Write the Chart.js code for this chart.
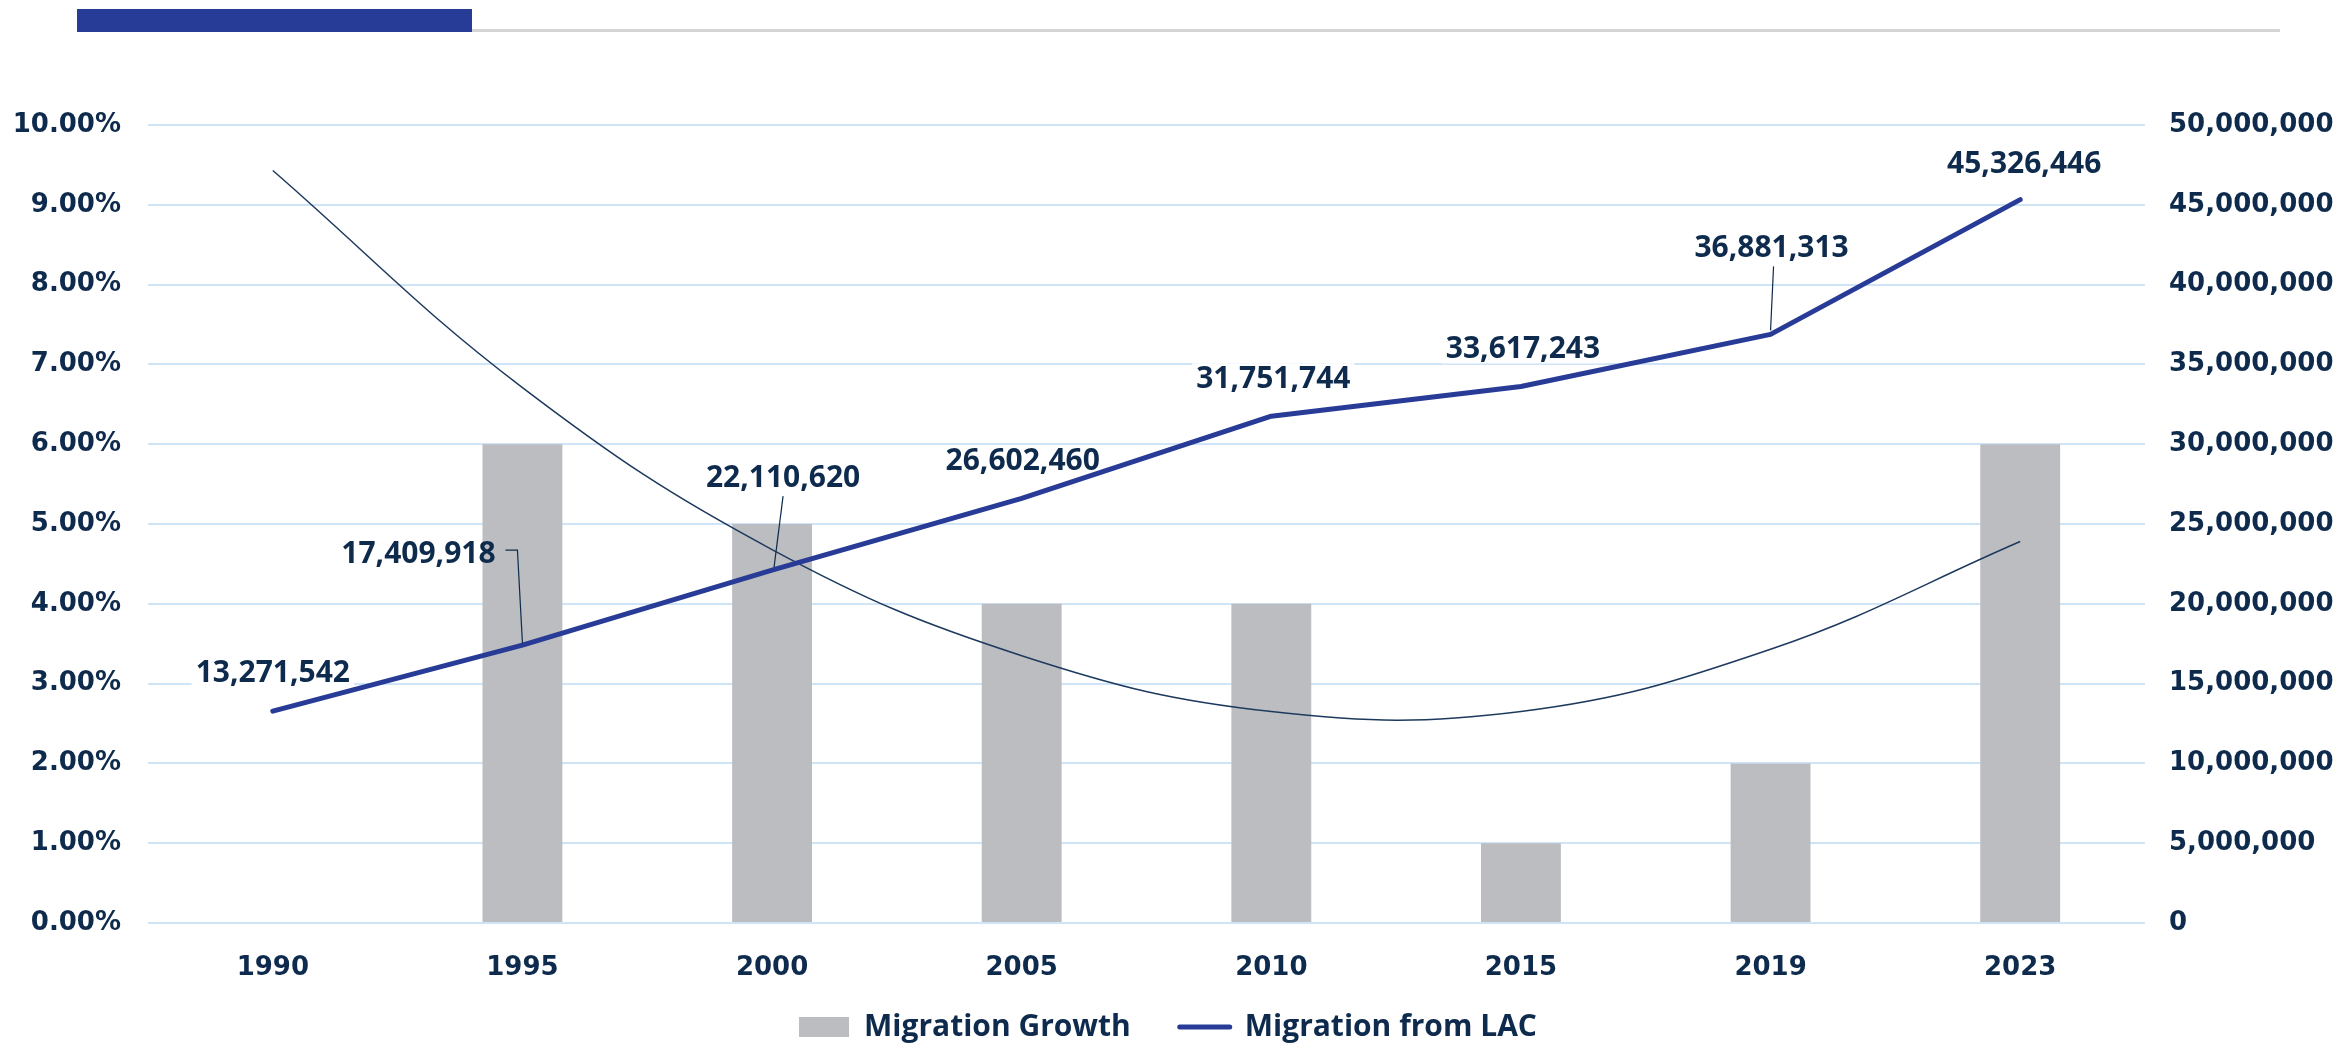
<!DOCTYPE html>
<html>
<head>
<meta charset="utf-8">
<script src="https://cdn.jsdelivr.net/npm/chart.js@4.4.1/dist/chart.umd.min.js"></script>
<style>
  html, body { margin: 0; padding: 0; background: #fff; }
  #wrap { position: relative; width: 2336px; height: 1044px; }
  .topline { position: absolute; left: 84px; top: 29px; width: 2196px; height: 3px; background: #d4d4d4; }
  .topbar { position: absolute; left: 77px; top: 9px; width: 395px; height: 23px; background: #263c96; }
  canvas { position: absolute; left: 0; top: 0; }
</style>
</head>
<body>
<div id="wrap">
  <div class="topline"></div>
  <div class="topbar"></div>
  <canvas id="grafico" width="2336" height="1044"></canvas>
</div>
<script>
// datos
const years = ['1990', '1995', '2000', '2005', '2010', '2015', '2019', '2023'];
const growthPct = [0, 6, 5, 4, 4, 1, 2, 6];
const migrationLAC = [13271542, 17409918, 22110620, 26602460, 31751744, 33617243, 36881313, 45326446];
// polynomial trendline of growth
const growthTrend = [9.43, 6.71, 4.68, 3.35, 2.65, 2.65, 3.43, 4.78];
const leftTicksMax = 10;
const rightTicksMax = 50000000;

const textColor = '#0e2b4d';
const barColor = '#bcbdc1';
const lineColor = '#283c97';
const gridColor = '#cfe4f6';

// label placement relative to the point
const labelOffsets = [[0, -40], [-104, -93], [11, -94], [1, -39], [2, -39], [2, -39], [1, -88], [4, -38]];
const leaders = {
  1: [[-17, -95], [-5, -95], [0, -2]],
  2: [[11, -74], [2, -3]],
  6: [[3, -68], [0, -4]]
};
const labelFont = 'bold 30px "Open Sans"';

const fmt = v => v.toLocaleString('en-US');

const dataLabels = {
  id: 'dataLabels',
  beforeDatasetsDraw(chart) {
    const meta = chart.getDatasetMeta(1);
    const ctx = chart.ctx;
    ctx.save();
    ctx.font = labelFont;
    ctx.fillStyle = '#fff';
    meta.data.forEach((pt, i) => {
      const cx = pt.x + labelOffsets[i][0];
      const cy = pt.y + labelOffsets[i][1];
      const w = ctx.measureText(fmt(migrationLAC[i])).width;
      ctx.fillRect(cx - w / 2 - 4, cy - 14, w + 8, 30);
    });
    ctx.restore();
  },
  afterDatasetsDraw(chart) {
    const meta = chart.getDatasetMeta(1);
    const ctx = chart.ctx;
    ctx.save();
    ctx.font = labelFont;
    ctx.fillStyle = textColor;
    ctx.textAlign = 'center';
    ctx.textBaseline = 'alphabetic';
    meta.data.forEach((pt, i) => {
      const cx = pt.x + labelOffsets[i][0];
      const cy = pt.y + labelOffsets[i][1];
      ctx.fillText(fmt(migrationLAC[i]), cx, cy + 11);
      if (leaders[i]) {
        ctx.strokeStyle = textColor;
        ctx.lineWidth = 1.2;
        ctx.beginPath();
        leaders[i].forEach((p, k) => {
          if (k === 0) ctx.moveTo(pt.x + p[0], pt.y + p[1]);
          else ctx.lineTo(pt.x + p[0], pt.y + p[1]);
        });
        ctx.stroke();
      }
    });
    ctx.restore();
  }
};

const ctx = document.getElementById('grafico').getContext('2d');
new Chart(ctx, {
  data: {
    labels: years,
    datasets: [
      {
        type: 'bar',
        label: 'Migration Growth',
        data: growthPct,
        backgroundColor: barColor,
        barPercentage: 0.32,
        categoryPercentage: 1,
        yAxisID: 'y',
        order: 3
      },
      {
        type: 'line',
        label: 'Migration from LAC',
        data: migrationLAC,
        borderColor: lineColor,
        borderWidth: 5,
        borderCapStyle: 'round',
        borderJoinStyle: 'round',
        pointRadius: 0,
        tension: 0,
        yAxisID: 'y1',
        order: 1
      },
      {
        type: 'line',
        label: 'Trend',
        data: growthTrend,
        borderColor: '#1d3a5e',
        borderWidth: 1.5,
        pointRadius: 0,
        tension: 0.4,
        yAxisID: 'y',
        order: 2
      }
    ]
  },
  options: {
    responsive: false,
    animation: false,
    layout: { padding: { top: 125, bottom: -8, left: 0, right: 0 } },
    plugins: {
      tooltip: { enabled: false },
      legend: {
        position: 'bottom',
        labels: {
          usePointStyle: true,
          pointStyleWidth: 50,
          boxHeight: 20,
          padding: 10,
          color: textColor,
          font: { family: 'Open Sans', weight: 'bold', size: 30 },
          generateLabels: () => [
            { text: 'Migration Growth' + '\u00a0'.repeat(5), fillStyle: barColor, strokeStyle: barColor, lineWidth: 0, pointStyle: 'rect', datasetIndex: 0, fontColor: textColor },
            { text: 'Migration from LAC', fillStyle: lineColor, strokeStyle: lineColor, lineWidth: 5, lineCap: 'round', pointStyle: 'line', datasetIndex: 1, fontColor: textColor }
          ]
        }
      }
    },
    scales: {
      x: {
        offset: true,
        grid: { display: false },
        border: { display: false },
        ticks: { color: textColor, padding: 22, font: { family: 'DejaVu Sans', weight: 'bold', size: 26 } },
        afterFit: s => { s.height = 79; }
      },
      y: {
        position: 'left',
        min: 0,
        max: leftTicksMax,
        grid: { color: gridColor, lineWidth: 2, drawTicks: false },
        border: { display: false },
        ticks: {
          stepSize: 1,
          padding: 27,
          color: textColor,
          font: { family: 'DejaVu Sans', weight: 'bold', size: 26 },
          callback: v => v.toFixed(2) + '%'
        },
        afterFit: s => { s.width = 148; }
      },
      y1: {
        position: 'right',
        min: 0,
        max: rightTicksMax,
        grid: { display: false },
        border: { display: false },
        ticks: {
          stepSize: 5000000,
          padding: 16,
          color: textColor,
          font: { family: 'DejaVu Sans', weight: 'bold', size: 26 },
          callback: v => fmt(v)
        },
        afterFit: s => { s.width = 191; }
      }
    }
  },
  plugins: [dataLabels]
});
</script>
</body>
</html>
